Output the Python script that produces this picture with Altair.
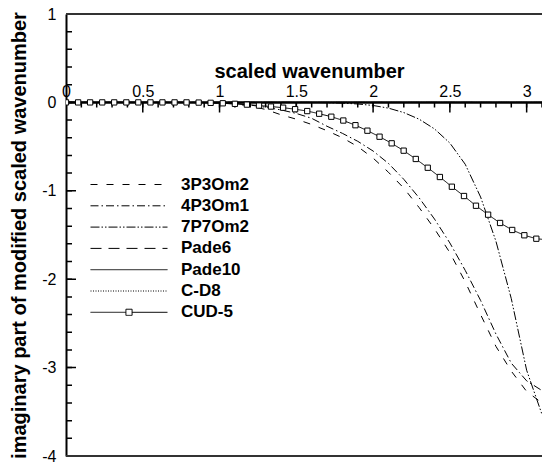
import altair as alt
import pandas as pd

W, H = 476, 442
FONT = "Liberation Sans"

# ---- data ----
schemes = ["3P3Om2", "4P3Om1", "7P7Om2", "Pade6", "Pade10", "C-D8", "CUD-5"]
dashes = [[7, 9], [8, 3, 1.5, 3], [9, 2, 1.5, 2, 1.5, 2], [11, 7], [1, 0], [1, 1.5], [1, 0]]
SQ = "M-1,0H-0.08M0.08,0H1M-0.08,-0.08H0.08V0.08H-0.08Z"
legend_shapes = ["stroke", "stroke", "stroke", "stroke", "stroke", "stroke", SQ]

x_grid = [0.0, 0.1, 0.2, 0.3, 0.4, 0.5, 0.6, 0.7, 0.8, 0.9, 1.0, 1.1, 1.2, 1.3, 1.4, 1.5,
          1.6, 1.7, 1.8, 1.9, 2.0, 2.1, 2.2, 2.3, 2.4, 2.5, 2.6, 2.7, 2.8, 2.9, 3.0, 3.1, 3.1416]

y_3p3om2 = [0, 0, 0, 0, 0, 0, 0, -0.001, -0.002, -0.004, -0.008, -0.018, -0.04, -0.08, -0.14, -0.19,
            -0.25, -0.32, -0.40, -0.50, -0.63, -0.79, -0.97, -1.19, -1.43, -1.70, -2.03, -2.40,
            -2.76, -3.04, -3.27, -3.40, -3.42]
y_4p3om1 = [0, 0, 0, 0, 0, 0, 0, 0, -0.001, -0.002, -0.005, -0.012, -0.03, -0.055, -0.085, -0.125,
            -0.18, -0.27, -0.35, -0.44, -0.55, -0.69, -0.87, -1.08, -1.32, -1.59, -1.90, -2.24,
            -2.62, -2.95, -3.15, -3.26, -3.28]
y_7p7om2 = [0, 0, 0, 0, 0, 0, 0, 0, 0, 0, 0, 0, 0, 0, 0, 0,
            0, -0.003, -0.008, -0.018, -0.035, -0.065, -0.115, -0.19, -0.30, -0.46, -0.70, -1.07,
            -1.57, -2.22, -3.03, -3.53, -3.60]
y_pade6 = [0] * 33
y_pade10 = [0] * 33
y_cd8 = [0] * 33

cud_x = [0.000, 0.079, 0.157, 0.236, 0.314, 0.393, 0.471, 0.550, 0.628, 0.707, 0.785,
         0.864, 0.942, 1.021, 1.100, 1.178, 1.257, 1.335, 1.414, 1.492, 1.571, 1.649,
         1.728, 1.806, 1.885, 1.963, 2.042, 2.121, 2.199, 2.278, 2.356, 2.435, 2.513,
         2.592, 2.670, 2.749, 2.827, 2.906, 2.985, 3.063, 3.142]
cud_y = [0, 0, 0, 0, 0, 0, 0, 0, 0, 0, 0,
         -0.002, -0.005, -0.010, -0.016, -0.025, -0.036, -0.047, -0.060, -0.077, -0.098, -0.128,
         -0.162, -0.205, -0.258, -0.320, -0.388, -0.463, -0.546, -0.640, -0.739, -0.844, -0.954,
         -1.059, -1.169, -1.270, -1.364, -1.443, -1.503, -1.542, -1.556]

x_minor = [0.0, 0.1, 0.2, 0.3, 0.4, 0.5, 0.6, 0.7, 0.8, 0.9, 1.0, 1.1, 1.2, 1.3, 1.4, 1.5,
           1.6, 1.7, 1.8, 1.9, 2.0, 2.1, 2.2, 2.3, 2.4, 2.5, 2.6, 2.7, 2.8, 2.9, 3.0, 3.1]
x_major = [0, 0.5, 1, 1.5, 2, 2.5, 3]
y_minor = [-4.0, -3.8, -3.6, -3.4, -3.2, -3.0, -2.8, -2.6, -2.4, -2.2, -2.0, -1.8, -1.6, -1.4,
           -1.2, -1.0, -0.8, -0.6, -0.4, -0.2, 0.0, 0.2, 0.4, 0.6, 0.8, 1.0]
y_major = [-4, -3, -2, -1, 0, 1]
frame_y = [1, -4]
axis_y = [0]

# tick lengths in pixels, turned into data units through the plot's scale
PX_PER_X = W / 3.1
PX_PER_Y = H / 5.0

# ---- tables ----
rows = []
for name, ys in zip(schemes[:6], [y_3p3om2, y_4p3om1, y_7p7om2, y_pade6, y_pade10, y_cd8]):
    for xv, yv in zip(x_grid, ys):
        rows.append({"scheme": name, "seg": name, "x": xv, "y": yv, "w": 1.0})
for xv, yv in zip(cud_x, cud_y):
    rows.append({"scheme": "CUD-5", "seg": "CUD-5", "x": xv, "y": yv, "w": 1.0})

# tick segments drawn as short solid lines in the same layer
for group, vals, px in [("xm", x_minor, 5), ("xM", x_major, 10)]:
    for i, t in enumerate(vals):
        for yv in (0.0, -px / PX_PER_Y):
            rows.append({"scheme": "Pade10", "seg": f"{group}{i}", "x": t, "y": yv, "w": 1.5})
for group, vals, px in [("ym", y_minor, 6), ("yM", y_major, 10)]:
    for i, t in enumerate(vals):
        for xv in (0.0, px / PX_PER_X):
            rows.append({"scheme": "Pade10", "seg": f"{group}{i}", "x": xv, "y": t, "w": 1.5})

lines_df = pd.DataFrame(rows)
cud_df = pd.DataFrame({"x": cud_x, "y": cud_y})
frame_df = pd.DataFrame({"b": frame_y})
axis_df = pd.DataFrame({"b": axis_y})
empty_df = pd.DataFrame({"x": pd.Series([], dtype=float), "y": pd.Series([], dtype=float),
                         "scheme": pd.Series([], dtype=str)})

xscale = alt.Scale(domain=[0, 3.1], nice=False, zero=False)
yscale = alt.Scale(domain=[-4, 1], nice=False, zero=False)

legend_props = dict(
    title=None, orient="none", legendX=24, legendY=163,
    symbolType="stroke", symbolSize=77 * 77, symbolStrokeWidth=1,
    symbolStrokeColor="black", symbolFillColor="white", symbolOpacity=1,
    clipHeight=15, rowPadding=3.3, labelOffset=13,
    labelFont=FONT, labelFontSize=17, labelFontWeight="bold", labelColor="black",
    padding=0,
)

lines = alt.Chart(lines_df).mark_line(color="black", clip=True).encode(
    x=alt.X("x:Q", scale=xscale,
            axis=alt.Axis(orient="top", offset=-H / 5, values=x_major, ticks=False, tickSize=0,
                          domain=False, grid=False, labelPadding=3, labelFontSize=16,
                          labelFont=FONT, labelColor="black", labelFlush=False,
                          labelExpr="'' + datum.value",
                          title="scaled wavenumber", titleFont=FONT, titleFontSize=20,
                          titleFontWeight="bold", titleColor="black", titlePadding=2,
                          titleX=243)),
    y=alt.Y("y:Q", scale=yscale,
            axis=alt.Axis(orient="left", values=y_major, ticks=False, tickSize=0,
                          domain=True, domainColor="black", domainWidth=2, grid=False,
                          labelPadding=10, labelFontSize=16, labelFont=FONT,
                          labelColor="black", labelFlush=False,
                          labelExpr="'' + datum.value",
                          title="imaginary part of modified scaled wavenumber",
                          titleFont=FONT, titleFontSize=20, titleFontWeight="bold",
                          titleColor="black", titlePadding=12)),
    strokeDash=alt.StrokeDash("scheme:N", scale=alt.Scale(domain=schemes, range=dashes),
                              legend=alt.Legend(**legend_props)),
    strokeWidth=alt.StrokeWidth("w:Q", scale=None, legend=None),
    detail="seg:N",
)

# empty layer that only gives the legend its CUD-5 square
legend_shape = alt.Chart(empty_df).mark_point(color="black").encode(
    x=alt.X("x:Q", scale=xscale, axis=None),
    y=alt.Y("y:Q", scale=yscale, axis=None),
    shape=alt.Shape("scheme:N", scale=alt.Scale(domain=schemes, range=legend_shapes),
                    legend=alt.Legend(**legend_props)),
)

points = alt.Chart(cud_df).mark_point(shape="square", size=28, fill="white", stroke="black",
                                      strokeWidth=1, opacity=1, filled=False, clip=True).encode(
    x=alt.X("x:Q", scale=xscale, axis=None),
    y=alt.Y("y:Q", scale=yscale, axis=None),
)

zero_line = alt.Chart(axis_df).mark_rule(color="black", strokeWidth=2.5).encode(
    y=alt.Y("b:Q", scale=yscale, axis=None),
)

frame = alt.Chart(frame_df).mark_rule(color="#333333", strokeWidth=2).encode(
    y=alt.Y("b:Q", scale=yscale, axis=None),
)

chart = alt.layer(
    lines, legend_shape, zero_line, points, frame,
).resolve_axis(x="independent", y="independent").properties(
    width=W, height=H,
    autosize=alt.AutoSizeParams(type="none"),
    padding={"left": 66, "top": 14, "right": 0, "bottom": 10},
    background="white",
).configure_view(stroke=None)

chart.save("out.html", embed_options={"renderer": "svg", "actions": False})
